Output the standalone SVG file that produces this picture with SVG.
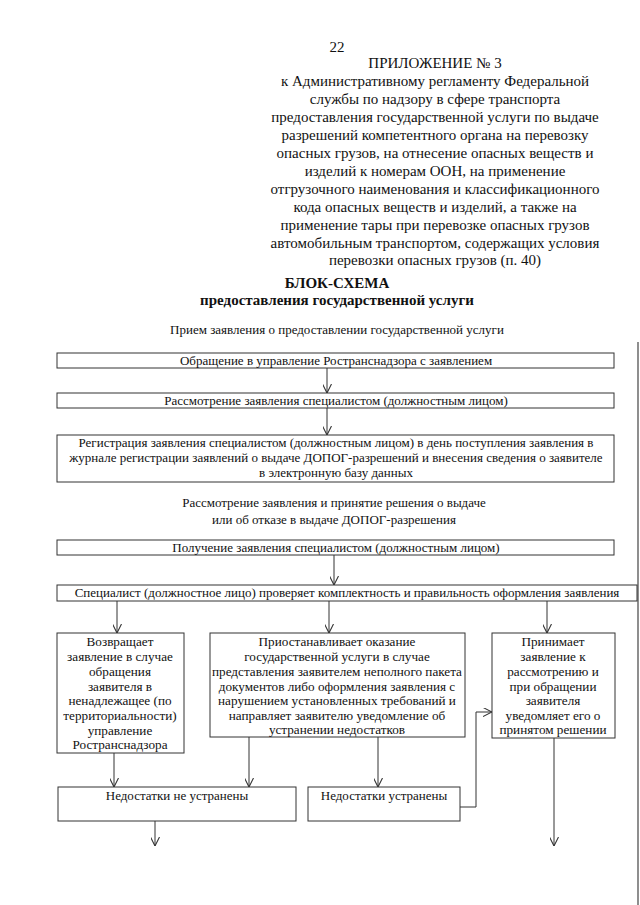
<svg xmlns="http://www.w3.org/2000/svg" width="640" height="905" viewBox="0 0 640 905">
<defs>
<style>
.h{font-size:15px;text-anchor:middle}
.hb{font-size:15px;text-anchor:middle;font-weight:bold}
.t{font-size:13px;text-anchor:middle}
.s{font-size:13.2px;text-anchor:middle}
.b{fill:#fff;stroke:#333;stroke-width:1}
.c{fill:none;stroke:#333;stroke-width:1}
</style>
<marker id="ar" viewBox="0 0 10 10" refX="10" refY="5" markerWidth="9" markerHeight="9" markerUnits="userSpaceOnUse" orient="auto">
<path d="M0,0 L10,5 L0,10" fill="none" stroke="#333" stroke-width="1.2"/>
</marker>
</defs>
<rect width="640" height="905" fill="#fff"/>
<line x1="638" y1="342" x2="638" y2="905" stroke="#444" stroke-width="1.2"/>
<g font-family="'Liberation Serif', 'DejaVu Serif', serif" fill="#111">
<g id="header">
<text x="337" y="52" class="h">22</text>
<text x="435" y="68" class="h">ПРИЛОЖЕНИЕ № 3</text>
<text x="435" y="86" class="h">к Административному регламенту Федеральной</text>
<text x="435" y="104" class="h">службы по надзору в сфере транспорта</text>
<text x="435" y="122" class="h">предоставления государственной услуги по выдаче</text>
<text x="435" y="140" class="h">разрешений компетентного органа на перевозку</text>
<text x="435" y="158" class="h">опасных грузов, на отнесение опасных веществ и</text>
<text x="435" y="176" class="h">изделий к номерам ООН, на применение</text>
<text x="435" y="194" class="h">отгрузочного наименования и классификационного</text>
<text x="435" y="212" class="h">кода опасных веществ и изделий, а также на</text>
<text x="435" y="230" class="h">применение тары при перевозке опасных грузов</text>
<text x="435" y="248" class="h">автомобильным транспортом, содержащих условия</text>
<text x="435" y="265" class="h">перевозки опасных грузов (п. 40)</text>
<text x="337" y="288" class="hb">БЛОК-СХЕМА</text>
<text x="337" y="305" class="hb">предоставления государственной услуги</text>
<text x="337" y="334" class="t">Прием заявления о предоставлении государственной услуги</text>
<text x="334" y="507" class="t">Рассмотрение заявления и принятие решения о выдаче</text>
<text x="334" y="524" class="t">или об отказе в выдаче ДОПОГ-разрешения</text>
</g>
<g id="connectors">
<line x1="327" y1="368" x2="327" y2="393" class="c" marker-end="url(#ar)"/>
<line x1="327" y1="408" x2="327" y2="435" class="c" marker-end="url(#ar)"/>
<line x1="334" y1="555" x2="334" y2="585" class="c" marker-end="url(#ar)"/>
<line x1="117" y1="601" x2="117" y2="633" class="c" marker-end="url(#ar)"/>
<line x1="329" y1="601" x2="329" y2="633" class="c" marker-end="url(#ar)"/>
<line x1="547" y1="601" x2="547" y2="633" class="c" marker-end="url(#ar)"/>
<line x1="114" y1="753" x2="114" y2="787" class="c" marker-end="url(#ar)"/>
<line x1="249" y1="737" x2="249" y2="787" class="c" marker-end="url(#ar)"/>
<line x1="378" y1="737" x2="378" y2="787" class="c" marker-end="url(#ar)"/>
<polyline points="460,807 476,807 476,712 492,712" class="c" marker-end="url(#ar)"/>
<line x1="554" y1="738" x2="554" y2="846" class="c" marker-end="url(#ar)"/>
<line x1="155" y1="821" x2="155" y2="846" class="c" marker-end="url(#ar)"/>
</g>
<g id="n1">
<rect x="57" y="353" width="557" height="15" class="b"/>
<text x="336" y="365" class="t">Обращение в управление Ространснадзора с заявлением</text>
</g>
<g id="n2">
<rect x="57" y="393" width="557" height="15" class="b"/>
<text x="336" y="405" class="t">Рассмотрение заявления специалистом (должностным лицом)</text>
</g>
<g id="n3">
<rect x="57" y="435" width="557" height="47" class="b"/>
<text x="336" y="447" class="t">Регистрация заявления специалистом (должностным лицом) в день поступления заявления в</text>
<text x="336" y="462" class="t">журнале регистрации заявлений о выдаче ДОПОГ-разрешений и внесения сведения о заявителе</text>
<text x="336" y="477" class="t">в электронную базу данных</text>
</g>
<g id="n4">
<rect x="57" y="540" width="557" height="15" class="b"/>
<text x="336" y="552" class="t">Получение заявления специалистом (должностным лицом)</text>
</g>
<g id="n5">
<rect x="57" y="585" width="580" height="16" class="b"/>
<text x="347" y="597" class="t">Специалист (должностное лицо) проверяет комплектность и правильность оформления заявления</text>
</g>
<g id="n6">
<rect x="57" y="633" width="127" height="120" class="b"/>
<text x="120" y="646" class="s">Возвращает</text>
<text x="120" y="661" class="s">заявление в случае</text>
<text x="120" y="676" class="s">обращения</text>
<text x="120" y="691" class="s">заявителя в</text>
<text x="120" y="705" class="s">ненадлежащее (по</text>
<text x="120" y="720" class="s">территориальности)</text>
<text x="120" y="735" class="s">управление</text>
<text x="120" y="749" class="s">Ространснадзора</text>
</g>
<g id="n7">
<rect x="210" y="633" width="255" height="104" class="b"/>
<text x="337" y="646" class="s">Приостанавливает оказание</text>
<text x="337" y="661" class="s">государственной услуги в случае</text>
<text x="337" y="676" class="s">представления заявителем неполного пакета</text>
<text x="337" y="691" class="s">документов либо оформления заявления с</text>
<text x="337" y="705" class="s">нарушением установленных требований и</text>
<text x="337" y="720" class="s">направляет заявителю уведомление об</text>
<text x="337" y="734" class="s">устранении недостатков</text>
</g>
<g id="n8">
<rect x="492" y="633" width="123" height="105" class="b"/>
<text x="553" y="646" class="s">Принимает</text>
<text x="553" y="661" class="s">заявление к</text>
<text x="553" y="676" class="s">рассмотрению и</text>
<text x="553" y="691" class="s">при обращении</text>
<text x="553" y="705" class="s">заявителя</text>
<text x="553" y="720" class="s">уведомляет его о</text>
<text x="553" y="734" class="s">принятом решении</text>
</g>
<g id="n9">
<rect x="58" y="787" width="238" height="34" class="b"/>
<text x="177" y="800" class="t">Недостатки не устранены</text>
</g>
<g id="n10">
<rect x="308" y="787" width="152" height="34" class="b"/>
<text x="384" y="800" class="t">Недостатки устранены</text>
</g>
</g>
</svg>
